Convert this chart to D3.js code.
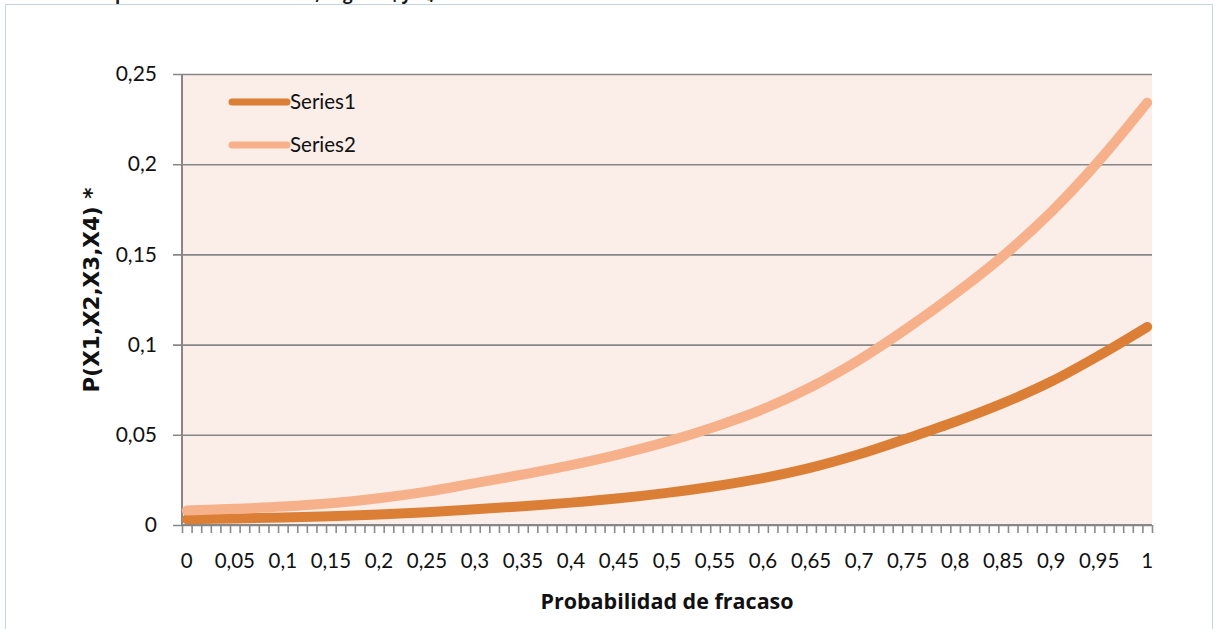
<!DOCTYPE html>
<html>
<head>
<meta charset="utf-8">
<script src="https://cdn.jsdelivr.net/npm/d3@7"></script>
<style>
  html, body { margin: 0; padding: 0; background: #ffffff; }
  svg { display: block; }
</style>
</head>
<body>
<svg id="chart" width="1218" height="629"></svg>
<script>
// Probability of failure: 101 categories from 0 to 1 in steps of 0,01
const categories = d3.range(0, 101).map(i => (i / 100).toString().replace(".", ","));

// Labelled categories (every fifth)
const tickLabels = ["0", "0,05", "0,1", "0,15", "0,2", "0,25", "0,3", "0,35", "0,4", "0,45", "0,5",
  "0,55", "0,6", "0,65", "0,7", "0,75", "0,8", "0,85", "0,9", "0,95", "1"];

// Series values at the labelled categories
const series1 = [0.0032, 0.0036, 0.0042, 0.0049, 0.0058, 0.0071, 0.0087, 0.0104, 0.0124, 0.0148,
  0.0178, 0.0215, 0.0260, 0.0318, 0.0392, 0.0480, 0.0572, 0.0675, 0.0795, 0.0940, 0.1098];
const series2 = [0.0080, 0.0090, 0.0102, 0.0120, 0.0148, 0.0185, 0.0232, 0.0280, 0.0332, 0.0392,
  0.0462, 0.0545, 0.0642, 0.0765, 0.0915, 0.1090, 0.1282, 0.1492, 0.1735, 0.2020, 0.2341];

const yTicks = [0, 0.05, 0.1, 0.15, 0.2, 0.25];
const seriesNames = ["Series1", "Series2"];
const seriesColors = ["#db7f36", "#f6b08a"];

const svg = d3.select("#chart");
const plot = { left: 182, right: 1152, top: 74, bottom: 525 };

// Outer chart frame
svg.append("rect")
  .attr("x", 5.5).attr("y", 4.5)
  .attr("width", 1207).attr("height", 640)
  .attr("fill", "#ffffff")
  .attr("stroke", "#c5d5e8").attr("stroke-width", 1);

// Chart title running above the frame top
svg.append("text")
  .attr("x", 22).attr("y", 0)
  .attr("font-family", "Open Sans, sans-serif")
  .attr("font-weight", "bold").attr("font-size", 17)
  .attr("fill", "#1a1a1a")
  .text("Valores de probabilidad de fracaso, según X₁ y X₄");

// Scales
const x = d3.scaleBand().domain(categories).range([plot.left, plot.right]).padding(0);
const xEdge = d3.scaleLinear().domain([0, categories.length]).range([plot.left, plot.right]);
const y = d3.scaleLinear().domain([0, 0.25]).range([plot.bottom, plot.top]);
const cx = c => x(c) + x.bandwidth() / 2;

// Plot area background
svg.append("rect")
  .attr("x", plot.left).attr("y", plot.top)
  .attr("width", plot.right - plot.left).attr("height", plot.bottom - plot.top)
  .attr("fill", "#fbeee9");

// Horizontal gridlines with outer tick stubs
const yAxis = svg.append("g")
  .attr("transform", `translate(${plot.left},0)`)
  .call(d3.axisLeft(y).tickValues(yTicks)
    .tickSize(-(plot.right - plot.left)).tickPadding(25)
    .tickFormat(d => d3.format("")(d).replace(".", ",")));
yAxis.select(".domain").remove();
yAxis.selectAll(".tick line")
  .attr("x1", -9)
  .attr("stroke", "#878787").attr("stroke-width", 1.6);
yAxis.selectAll(".tick text")
  .attr("font-family", "Lato, sans-serif").attr("font-size", 21).attr("fill", "#111");

// Vertical axis line
svg.append("line")
  .attr("x1", plot.left).attr("x2", plot.left)
  .attr("y1", plot.top).attr("y2", plot.bottom)
  .attr("stroke", "#878787").attr("stroke-width", 2);

// Category boundary ticks
const xTicks = svg.append("g")
  .attr("transform", `translate(0,${plot.bottom})`)
  .call(d3.axisBottom(xEdge).tickValues(d3.range(0, categories.length + 1))
    .tickSize(8).tickFormat(""));
xTicks.select(".domain").remove();
xTicks.selectAll(".tick line").attr("stroke", "#8a8a8a").attr("stroke-width", 1.6);

svg.append("line")
  .attr("x1", plot.left).attr("x2", plot.right)
  .attr("y1", plot.bottom).attr("y2", plot.bottom)
  .attr("stroke", "#878787").attr("stroke-width", 2);

// Category labels
const xLabels = svg.append("g")
  .attr("transform", `translate(0,${plot.bottom})`)
  .call(d3.axisBottom(x).tickValues(tickLabels).tickSize(0).tickPadding(28));
xLabels.select(".domain").remove();
xLabels.selectAll(".tick text")
  .attr("font-family", "Lato, sans-serif").attr("font-size", 20.5).attr("fill", "#111");

// Axis titles
svg.append("text")
  .attr("x", 667).attr("y", 609)
  .attr("text-anchor", "middle")
  .attr("font-family", "Open Sans, sans-serif").attr("font-weight", "bold").attr("font-size", 21.5)
  .attr("fill", "#111")
  .text("Probabilidad de fracaso");

svg.append("text")
  .attr("transform", "translate(99,290) rotate(-90)")
  .attr("text-anchor", "middle")
  .attr("font-family", "DejaVu Sans, sans-serif").attr("font-weight", "bold").attr("font-size", 21.5)
  .attr("fill", "#111")
  .text("P(X1,X2,X3,X4) *");

// Series lines
const line = d3.line()
  .x((d, i) => cx(tickLabels[i]))
  .y(d => y(d))
  .curve(d3.curveCatmullRom.alpha(0.5));

[series1, series2].forEach((s, k) => {
  svg.append("path")
    .datum(s)
    .attr("d", line)
    .attr("fill", "none")
    .attr("stroke", seriesColors[k])
    .attr("stroke-width", 10)
    .attr("stroke-linecap", "round")
    .attr("stroke-linejoin", "round");
});

// Legend
const legend = svg.append("g");
seriesNames.forEach((name, k) => {
  const ly = 102 + k * 43;
  legend.append("line")
    .attr("x1", 232).attr("x2", 287)
    .attr("y1", ly).attr("y2", ly)
    .attr("stroke", seriesColors[k]).attr("stroke-width", 7)
    .attr("stroke-linecap", "round");
  legend.append("text")
    .attr("x", 290).attr("y", ly + 7)
    .attr("font-family", "Lato, sans-serif").attr("font-size", 20.5).attr("fill", "#111")
    .text(name);
});
</script>
</body>
</html>
